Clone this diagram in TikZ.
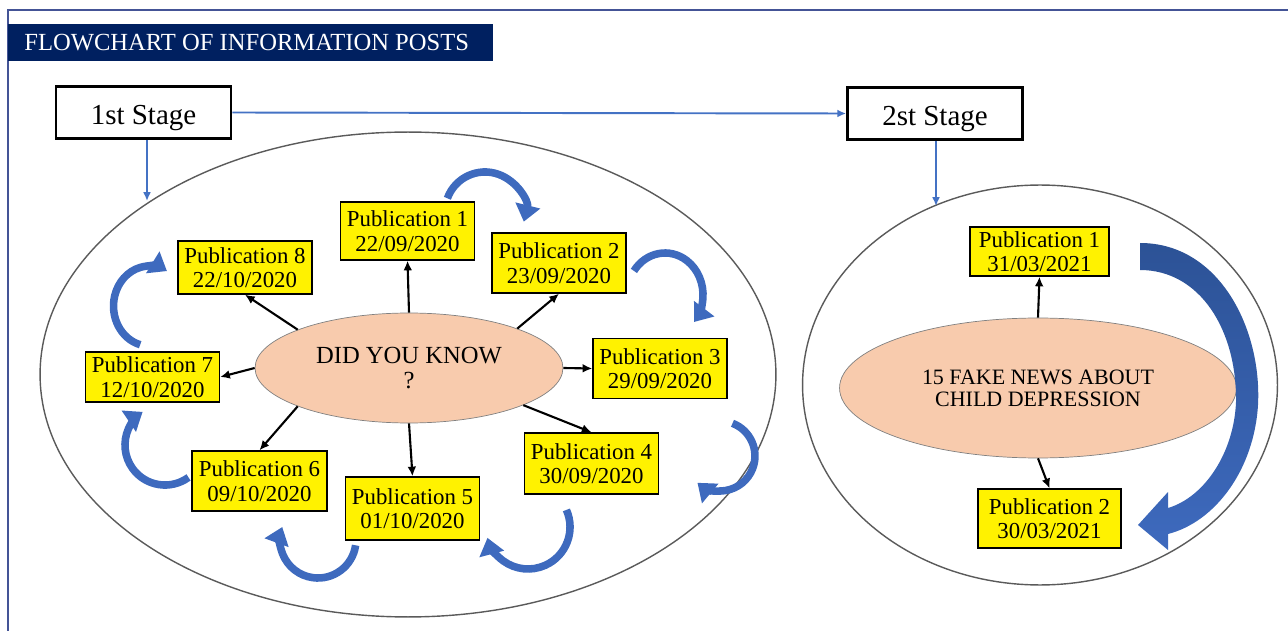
\documentclass[tikz,border=0pt]{standalone}
\usepackage{fontspec}
\setmainfont{Liberation Serif}
\usepackage{tikz}
\usetikzlibrary{shapes.geometric}
\usetikzlibrary{arrows.meta,arrows}

\definecolor{navy}{RGB}{0,32,96}
\definecolor{framec}{RGB}{68,84,150}
\definecolor{linkblue}{RGB}{68,114,196}
\definecolor{turnblue}{RGB}{62,106,190}
\definecolor{darkturn}{RGB}{44,82,150}
\definecolor{peach}{RGB}{248,203,173}
\definecolor{ringgray}{RGB}{90,90,90}

\tikzset{
  stagebox/.style={draw, line width=1.6pt, fill=white, minimum width=3.5cm, minimum height=1.04cm, text height=17pt, text depth=3.4pt, font=\fontsize{16.5}{18}\selectfont},
  pubbox/.style={draw, line width=0.8pt, fill=yellow, align=center, inner sep=1pt, minimum width=2.68cm, minimum height=1.2cm, font=\fontsize{13}{14}\selectfont},
  topicnode/.style={ellipse, draw=gray, fill=peach, align=center, inner sep=0pt},
  stagering/.style={ellipse, draw=ringgray, line width=0.8pt, inner sep=0pt},
  stagelink/.style={draw=linkblue, line width=1.1pt, -{Latex[length=5pt,width=4.5pt]}},
  publink/.style={line width=1.2pt, -{Latex[length=5.5pt,width=5pt]}},
  cyclearrow/.style={draw=turnblue, line width=4.3pt, -{Triangle[length=9.5pt,width=14pt]}},
}

\begin{document}
\begin{tikzpicture}[x=0.02cm,y=-0.02cm]
\useasboundingbox (0,0) rectangle (1288,631);
% Frame and title bar
\draw[framec, line width=1.6pt] (1288,10) -- (8,10) -- (8,631);
\fill[navy] (8,24) rectangle (493,61);
\node[anchor=west, text=white, inner sep=0pt, font=\fontsize{14}{15}\selectfont] (title) at (24,43) {FLOWCHART OF INFORMATION POSTS};
% Stages
\node[stagebox] (stage1) at (143.5,112.5) {1st Stage};
\node[stagebox] (stage2) at (935,113.5) {2st Stage};
% Stage rings
\node[stagering, minimum width=14.72cm, minimum height=9.7cm] (ring1) at (408,374.5) {};
\node[stagering, minimum width=9.5cm, minimum height=8cm] (ring2) at (1040,385) {};
\coordinate (hit1) at (147,201);
\coordinate (hit2) at (936,206);
\draw[stagelink] (stage1.east) -- (stage2.west);
\draw[stagelink] (stage1.south -| hit1) -- (hit1);
\draw[stagelink] (stage2.south -| hit2) -- (hit2);
% 1st stage: did you know
\node[topicnode, minimum width=6.16cm, minimum height=2.2cm, font=\fontsize{14}{14.5}\selectfont] (know) at (409,368) {DID YOU KNOW\\?};
\node[pubbox, minimum height=1.16cm] (p1) at (407.5,231) {Publication 1\\22/09/2020};
\node[pubbox] (p2) at (559,263) {Publication 2\\23/09/2020};
\node[pubbox] (p3) at (660,368.5) {Publication 3\\29/09/2020};
\node[pubbox, minimum height=1.22cm] (p4) at (591.5,463.5) {Publication 4\\30/09/2020};
\node[pubbox, minimum height=1.26cm] (p5) at (412.5,508.5) {Publication 5\\01/10/2020};
\node[pubbox, minimum width=2.7cm] (p6) at (259.5,481) {Publication 6\\09/10/2020};
\node[pubbox, minimum height=1cm] (p7) at (152.5,377) {Publication 7\\12/10/2020};
\node[pubbox, minimum height=1.06cm] (p8) at (245,267.5) {Publication 8\\22/10/2020};
\draw[publink] (know.north) -- (p1.south);
\draw[publink] (know.20) -- (p2.south);
\draw[publink] (know.east) -- (p3.west);
\draw[publink] (know.342) -- (p4.north);
\draw[publink] (know.south) -- (p5.north);
\draw[publink] (know.199) -- (p6.north);
\draw[publink] (know.west) -- (p7.east);
\draw[publink] (know.161) -- (p8.south);
% publication order
\draw[cyclearrow] (447.4,198.3) arc (200:374:40);
\draw[cyclearrow] (633.9,270.9) arc (215:400:38 and 42);
\draw[cyclearrow] (732.5,423.3) arc (291:490:35);
\draw[cyclearrow] (566.4,509.9) arc (336:525:42);
\draw[cyclearrow] (355.6,545.3) arc (8:200:38);
\draw[cyclearrow] (188.5,477.4) arc (54:236:40);
\draw[cyclearrow] (140.2,344.7) arc (105:299:36 and 40);
% 2nd stage: fake news
\node[topicnode, minimum width=7.94cm, minimum height=2.8cm, font=\fontsize{12.5}{12.5}\selectfont] (fake) at (1038,388) {15 FAKE NEWS ABOUT\\CHILD DEPRESSION};
\node[pubbox, minimum width=2.78cm, minimum height=0.98cm] (q1) at (1039.5,251.5) {Publication 1\\31/03/2021};
\node[pubbox, minimum width=2.86cm, minimum height=1.18cm] (q2) at (1049.5,518.5) {Publication 2\\30/03/2021};
\draw[publink] (fake.north) -- (q1.south);
\draw[publink] (fake.south) -- (q2.north);
\shade[top color=darkturn, bottom color=turnblue] (1140,243) .. controls (1220,243) and (1262,330) .. (1258,405)
  .. controls (1254,470) and (1215,522) .. (1168,534) -- (1168,550) -- (1138,525) -- (1168,492) -- (1168,508)
  .. controls (1205,497) and (1234,452) .. (1236,402) .. controls (1237,330) and (1200,270) .. (1140,270) -- cycle;
\end{tikzpicture}
\end{document}
